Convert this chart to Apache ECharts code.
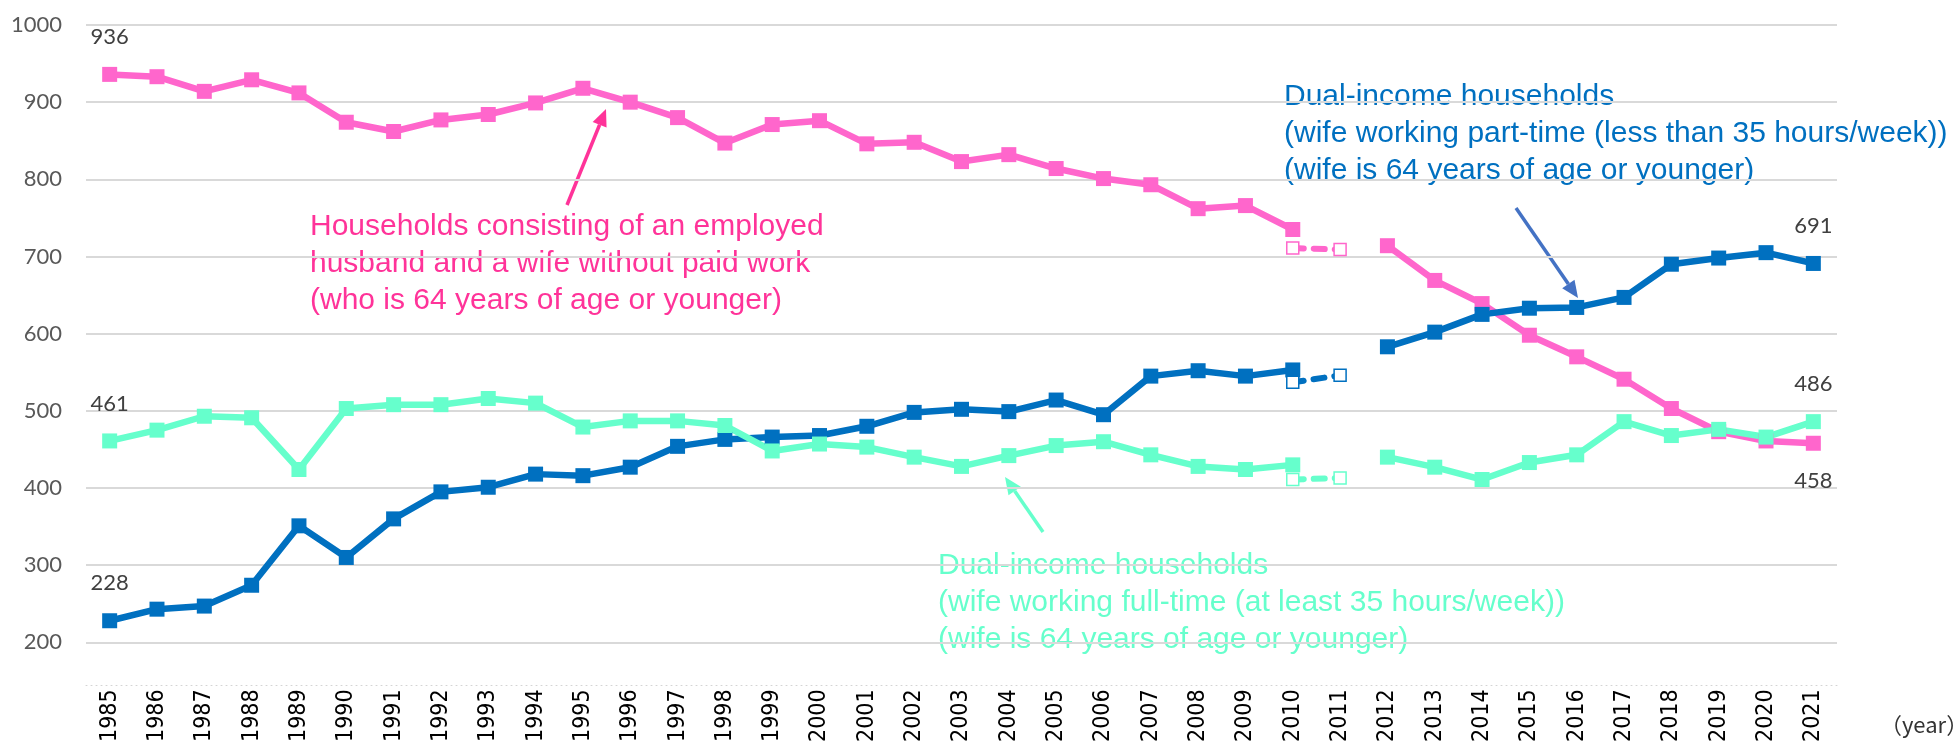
<!DOCTYPE html>
<html>
<head>
<meta charset="utf-8">
<script src="https://cdn.jsdelivr.net/npm/echarts@6/dist/echarts.min.js"></script>
<style>
  html, body { margin: 0; padding: 0; background: #fff; }
  #chart { width: 1955px; height: 745px; }
</style>
</head>
<body>
<div id="chart"></div>
<script>
const years = [];
for (let y = 1985; y <= 2021; y++) years.push(String(y));

// households with employed husband and wife without paid work (64 or younger)
const noPaidWork = [936, 933, 914, 929, 912, 874, 862, 877, 884, 899, 918, 900, 880, 847, 871, 876, 846, 848, 823, 832,
    814, 801, 793, 762, 766, 735, null, 714, 669, 639, 598, 570, 541, 503, 473, 461, 458];
// dual-income, wife part-time
const partTime = [228, 243, 247, 274, 351, 310, 360, 395, 401, 418, 416, 427, 454, 463, 466, 468, 480, 498, 502, 499,
    514, 495, 545, 552, 545, 553, null, 583, 602, 625, 633, 634, 647, 690, 698, 705, 691];
// dual-income, wife full-time
const fullTime = [461, 475, 493, 491, 424, 503, 508, 508, 516, 510, 479, 487, 487, 481, 448, 457, 453, 440, 428, 442,
    455, 460, 443, 428, 424, 430, null, 440, 427, 411, 433, 443, 486, 468, 476, 466, 486];

// 2010-2011 values excluding the disaster-affected prefectures (dashed)
const adjYears = ["2010", "2011"];
const noPaidWorkAdj = [711, 709];
const partTimeAdj = [537, 546];
const fullTimeAdj = [411, 413];

const PINK = "#ff66cc";
const BLUE = "#0070c0";
const GREEN = "#66ffcc";

function withEndLabels(values, firstPos, lastPos) {
    return values.map(function (v, i) {
        if (i === 0 && firstPos) return { value: v, label: { show: true, position: firstPos } };
        if (i === values.length - 1 && lastPos) return { value: v, label: { show: true, position: lastPos } };
        return v;
    });
}

function adjData(values) {
    return years.map(function (y) {
        const k = adjYears.indexOf(y);
        return k >= 0 ? values[k] : null;
    });
}

const valueLabel = {
    show: false,
    fontFamily: "Lato",
    fontSize: 22,
    color: "#404040",
    distance: 19,
};

function mainSeries(name, data, color) {
    return {
        name: name,
        type: "line",
        data: data,
        symbol: "rect",
        symbolSize: 15,
        lineStyle: { color: color, width: 6.5 },
        itemStyle: { color: color },
        label: valueLabel,
        connectNulls: false,
        animation: false,
        z: 3,
    };
}

function adjSeries(name, data, color) {
    return {
        name: name,
        type: "line",
        data: adjData(data),
        symbol: "rect",
        symbolSize: 12,
        lineStyle: { color: color, width: 6, type: [11, 10], cap: "round" },
        itemStyle: { color: "#fff", borderColor: color, borderWidth: 1.5 },
        connectNulls: false,
        animation: false,
        z: 4,
    };
}

function arrow(tail, tip, color) {
    const dx = tip[0] - tail[0], dy = tip[1] - tail[1];
    const len = Math.sqrt(dx * dx + dy * dy);
    const ux = dx / len, uy = dy / len;
    const hl = 17, hw = 7.5;
    const bx = tip[0] - ux * hl, by = tip[1] - uy * hl;
    return [
        {
            type: "line",
            shape: { x1: tail[0], y1: tail[1], x2: bx, y2: by },
            style: { stroke: color, lineWidth: 3.5 },
        },
        {
            type: "polygon",
            shape: {
                points: [
                    [tip[0], tip[1]],
                    [bx - uy * hw, by + ux * hw],
                    [bx + uy * hw, by - ux * hw],
                ],
            },
            style: { fill: color },
        },
    ];
}

const noteFont = "30px 'Liberation Sans', Arial, sans-serif";

const myChart = echarts.init(document.querySelector("#chart"));
const option = {
    backgroundColor: "#fff",
    grid: { left: 86, right: 118, top: 25, bottom: 101 },
    xAxis: {
        type: "category",
        data: years,
        boundaryGap: true,
        offset: 43,
        axisLine: { show: true, lineStyle: { color: "#d4d4d4", type: [1, 4], width: 1 } },
        axisTick: { show: false },
        axisLabel: {
            interval: 0,
            rotate: 90,
            margin: 4,
            fontFamily: "'Liberation Sans Narrow', 'DejaVu Sans Condensed', 'Liberation Sans', sans-serif",
            fontSize: 23,
            color: "#000",
        },
    },
    yAxis: {
        type: "value",
        min: 200,
        max: 1000,
        interval: 100,
        axisLine: { show: false },
        axisTick: { show: false },
        axisLabel: {
            fontFamily: "Lato",
            fontSize: 22,
            color: "#595959",
            margin: 24,
            formatter: function (v) { return String(v); },
        },
        splitLine: { lineStyle: { color: "#d9d9d9", width: 2 } },
    },
    series: [
        mainSeries("wife without paid work", withEndLabels(noPaidWork, "top", "bottom"), PINK),
        mainSeries("wife part-time", withEndLabels(partTime, "top", "top"), BLUE),
        mainSeries("wife full-time", withEndLabels(fullTime, "top", "top"), GREEN),
        adjSeries("wife without paid work (adj.)", noPaidWorkAdj, PINK),
        adjSeries("wife part-time (adj.)", partTimeAdj, BLUE),
        adjSeries("wife full-time (adj.)", fullTimeAdj, GREEN),
    ],
    graphic: [
        {
            type: "text",
            left: 310,
            top: 208,
            style: {
                text: "Households consisting of an employed\nhusband and a wife without paid work\n(who is 64 years of age or younger)",
                font: noteFont,
                lineHeight: 37,
                fill: "#ff3399",
            },
        },
        {
            type: "text",
            left: 1284,
            top: 78,
            style: {
                text: "Dual-income households\n(wife working part-time (less than 35 hours/week))\n(wife is 64 years of age or younger)",
                font: noteFont,
                lineHeight: 37,
                fill: "#0070c0",
            },
        },
        {
            type: "text",
            left: 938,
            top: 547,
            style: {
                text: "Dual-income households\n(wife working full-time (at least 35 hours/week))\n(wife is 64 years of age or younger)",
                font: noteFont,
                lineHeight: 37,
                fill: "#66ffcc",
            },
        },
        {
            type: "text",
            left: 1880,
            top: 714,
            style: {
                text: "（year）",
                font: "22px 'Noto Sans CJK JP', sans-serif",
                fill: "#333",
            },
        },
    ]
        .concat(arrow([567, 205], [606, 109], "#ff3399"))
        .concat(arrow([1516, 208], [1578, 298], "#4472c4"))
        .concat(arrow([1043, 532], [1005, 477], "#66ffcc")),
};
myChart.setOption(option);
window.addEventListener("resize", function () {
    myChart.resize();
});
</script>
</body>
</html>
